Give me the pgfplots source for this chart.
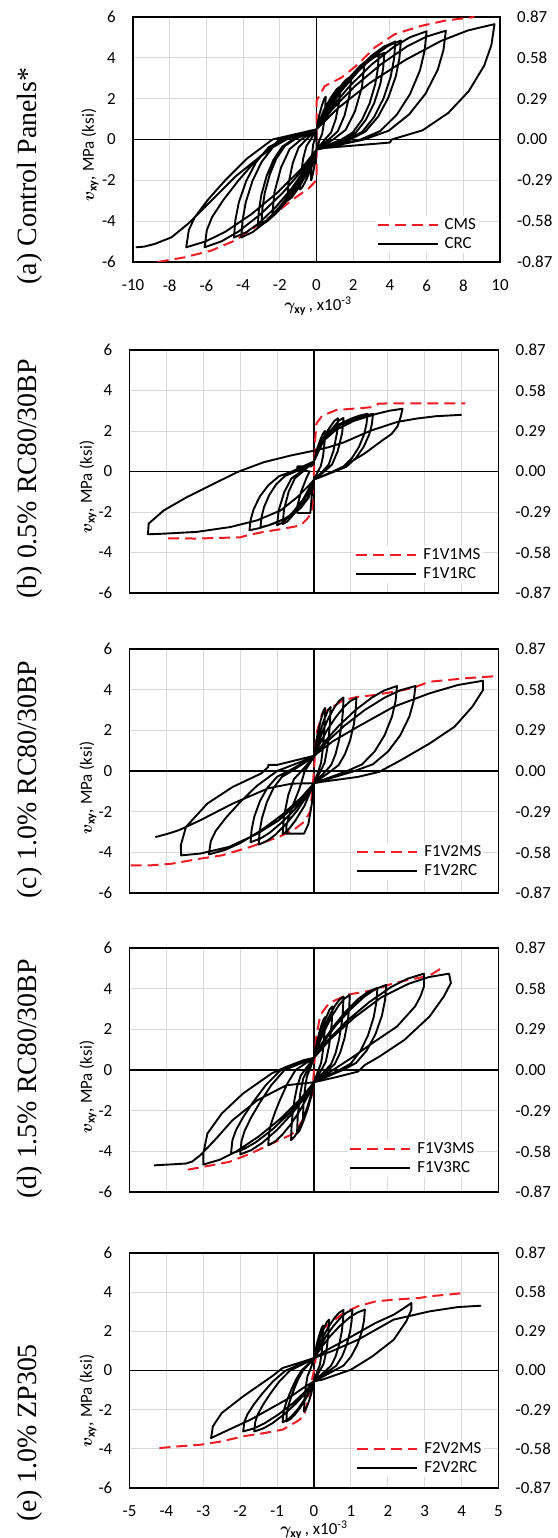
\RequirePackage{fix-cm}
\documentclass[border=0pt]{standalone}
\usepackage{amsmath}
\usepackage{bm}
\usepackage{fontspec}
\setmainfont{Carlito}
\newfontfamily\tnr{Liberation Serif}
\usepackage{pgfplots}
\pgfplotsset{compat=1.18}
\definecolor{msred}{RGB}{237,28,36}
\definecolor{gridgray}{RGB}{217,217,217}
\newcommand{\tfont}{\fontsize{17}{20}\selectfont}
\newcommand{\sfont}{\tnr\fontsize{28}{32}\selectfont}

\pgfplotsset{
  panel/.style={
    scale only axis,
    ymin=-6, ymax=6,
    ytick={-6,-4,-2,0,2,4,6},
    yticklabels={-6,-4,-2,0,2,4,6},
    grid=major,
    major grid style={draw=gridgray, line width=1bp},
    axis line style={line width=1.4bp},
    tick style={draw=none},
    ticklabel style={font=\tfont},
    yticklabel style={inner sep=0pt, anchor=east, xshift=-17bp},
    xticklabel style={inner sep=0pt, anchor=north, yshift=-17.5bp},
    extra x ticks={0}, extra y ticks={0},
    extra x tick labels={}, extra y tick labels={},
    extra tick style={grid=major, major grid style={draw=black, line width=1.4bp}},
    legend cell align=left,
    legend style={draw=none, fill=white, font=\tfont, inner sep=1bp, row sep=2bp, nodes={inner sep=2bp},
      /tikz/every odd column/.append style={column sep=4bp}},
    legend image code/.code={\draw[##1] (0bp,0bp) -- (60bp,0bp);},
  },
  rightax/.style={
    scale only axis,
    ymin=-6, ymax=6, xmin=0, xmax=1,
    axis x line=none,
    axis y line*=right,
    axis line style={draw=none},
    ytick={-6,-4,-2,0,2,4,6},
    yticklabels={-0.87,-0.58,-0.29,0.00,0.29,0.58,0.87},
    tick style={draw=none},
    yticklabel style={font=\tfont, inner sep=0pt, anchor=west, xshift=17bp},
  },
  ms/.style={msred, line width=2bp, dash pattern=on 11bp off 6bp},
  rc/.style={black, line width=1.9bp, line join=round},
}

\begin{document}
\begin{tikzpicture}
\path[use as bounding box] (0,0) rectangle (558bp,-1538bp);

% ---------------- (a) ----------------
\begin{axis}[panel, at={(133bp,-17bp)}, anchor=north west, width=367bp, height=245bp,
  xmin=-10, xmax=10, xtick={-10,-8,-6,-4,-2,0,2,4,6,8,10},
  xticklabels={-10,-8,-6,-4,-2,0,2,4,6,8,10},
  legend style={at={(1,0)}, anchor=south east, xshift=-21bp, yshift=9bp}]
\addplot[ms] coordinates {(-8.65,-6.0) (-7.18,-5.77) (-5.73,-5.44) (-4.45,-4.95) (-3.36,-4.3) (-2.27,-3.64) (-1.36,-2.98) (-0.45,-2.41) (-0.09,-2.08) (0,-1.84) (0,1.89) (0.45,2.62) (1.36,3.03) (2.27,3.69) (3.18,4.51) (4.27,5.16) (5.73,5.57) (7.0,5.82) (8.6,6.0)};
\addlegendentry{CMS}
\addplot[rc] coordinates {
(0,0.5) (0.15,1.2) (0.3,1.68) (0.425,2.0) (0.5,2.1)
(0.477,1.51) (0.403,0.8) (0.305,0.27) (0.175,0) (0,-0.5)
(-0.09,-1.16) (-0.18,-1.61) (-0.255,-1.91) (-0.3,-2.0)
(-0.286,-1.44) (-0.242,-0.76) (-0.183,-0.26) (-0.105,0) (0,0.5)
(0.39,1.42) (0.78,2.05) (1.105,2.47) (1.3,2.6)
(1.241,1.87) (1.047,0.99) (0.793,0.34) (0.455,0) (0,-0.5)
(-0.27,-1.36) (-0.54,-1.94) (-0.765,-2.33) (-0.9,-2.45)
(-0.859,-1.76) (-0.725,-0.93) (-0.549,-0.32) (-0.315,0) (0,0.5)
(0.57,1.64) (1.14,2.42) (1.615,2.94) (1.9,3.1)
(1.814,2.23) (1.53,1.18) (1.159,0.4) (0.665,0) (0,-0.5)
(-0.48,-1.6) (-0.96,-2.35) (-1.36,-2.85) (-1.6,-3.0)
(-1.527,-2.16) (-1.288,-1.14) (-0.976,-0.39) (-0.56,0) (0,0.5)
(0.78,1.86) (1.56,2.79) (2.21,3.41) (2.6,3.6)
(2.482,2.59) (2.093,1.37) (1.586,0.47) (0.91,0) (0,-0.5)
(-0.72,-1.86) (-1.44,-2.79) (-2.04,-3.41) (-2.4,-3.6)
(-2.291,-2.59) (-1.932,-1.37) (-1.464,-0.47) (-0.84,0) (0,0.5)
(0.408,1.24) (1.02,2.13) (1.7,2.94) (2.38,3.61) (2.89,3.98) (3.4,4.2)
(3.339,3.44) (3.196,2.69) (2.89,1.76) (2.482,0.97) (1.972,0.34) (1.36,0) (0,-0.5)
(-0.384,-1.25) (-0.96,-2.15) (-1.6,-2.98) (-2.24,-3.65) (-2.72,-4.03) (-3.2,-4.25)
(-3.142,-3.49) (-3.008,-2.72) (-2.72,-1.79) (-2.336,-0.98) (-1.856,-0.34) (-1.28,0) (0,0.5)
(0.444,1.25) (1.11,2.15) (1.85,2.98) (2.59,3.65) (3.145,4.03) (3.7,4.25)
(3.633,3.49) (3.478,2.72) (3.145,1.79) (2.701,0.98) (2.146,0.34) (1.48,0) (0,-0.5)
(-0.36,-1.22) (-0.9,-2.08) (-1.5,-2.88) (-2.1,-3.52) (-2.55,-3.88) (-3.0,-4.1)
(-2.946,-3.36) (-2.82,-2.62) (-2.55,-1.72) (-2.19,-0.94) (-1.74,-0.33) (-1.2,0) (0,0.5)
(0.516,1.36) (1.29,2.39) (2.15,3.34) (3.01,4.11) (3.655,4.54) (4.3,4.8)
(4.223,3.94) (4.042,3.07) (3.655,2.02) (3.139,1.1) (2.494,0.38) (1.72,0) (0,-0.5)
(-0.492,-1.36) (-1.23,-2.39) (-2.05,-3.34) (-2.87,-4.11) (-3.485,-4.54) (-4.1,-4.8)
(-4.026,-3.94) (-3.854,-3.07) (-3.485,-2.02) (-2.993,-1.1) (-2.378,-0.38) (-1.64,0) (0,0.5)
(0.552,1.37) (1.38,2.41) (2.3,3.37) (3.22,4.15) (3.91,4.59) (4.6,4.85)
(4.517,3.98) (4.324,3.1) (3.91,2.04) (3.358,1.12) (2.668,0.39) (1.84,0) (0,-0.5)
(-0.54,-1.36) (-1.35,-2.39) (-2.25,-3.34) (-3.15,-4.11) (-3.825,-4.54) (-4.5,-4.8)
(-4.419,-3.94) (-4.23,-3.07) (-3.825,-2.02) (-3.285,-1.1) (-2.61,-0.38) (-1.8,0) (0,0.5)
(0.72,1.46) (1.8,2.61) (3.0,3.67) (4.2,4.53) (5.1,5.01) (6.0,5.3)
(5.892,4.35) (5.64,3.39) (5.1,2.23) (4.38,1.22) (3.48,0.42) (2.4,0) (0,-0.5)
(-0.732,-1.46) (-1.83,-2.6) (-3.05,-3.66) (-4.27,-4.52) (-5.185,-4.99) (-6.1,-5.28)
(-5.977,-4.44) (-5.69,-3.8) (-5.075,-2.96) (-4.255,-2.01) (-3.23,-0.95) (-2.0,0) (0,0.5)
(0.846,1.47) (2.115,2.63) (3.525,3.69) (4.935,4.56) (5.993,5.04) (7.05,5.33)
(6.917,4.37) (6.605,3.41) (5.938,2.24) (5.048,1.23) (3.935,0.43) (2.6,0) (0,-0.5)
(-0.852,-1.46) (-2.13,-2.6) (-3.55,-3.66) (-4.97,-4.52) (-6.035,-4.99) (-7.1,-5.28)
(-6.959,-4.44) (-6.63,-3.8) (-5.925,-2.96) (-4.985,-2.01) (-3.81,-0.95) (-2.4,0) (0,0.5)
(1.164,1.53) (2.91,2.77) (4.85,3.9) (6.79,4.83) (8.245,5.34) (9.7,5.65)
(9.532,4.63) (9.14,3.62) (8.3,2.37) (7.18,1.3) (5.78,0.45) (4.1,0) (4.0,-0.15) (0,-0.45)
(0,0.4) (-1.0,0.25) (-1.8,0.0) (-2.64,-0.55) (-3.55,-1.18) (-4.45,-1.84) (-5.36,-2.66) (-6.27,-3.48) (-7.0,-4.13) (-7.9,-4.79) (-8.8,-5.11) (-9.4,-5.25) (-9.85,-5.28)
};
\addlegendentry{CRC}
\end{axis}
\begin{axis}[rightax, at={(133bp,-17bp)}, anchor=north west, width=367bp, height=245bp]
\end{axis}

% ---------------- (b) ----------------
\begin{axis}[panel, at={(129.5bp,-350bp)}, anchor=north west, width=369bp, height=243bp,
  xmin=-5, xmax=5, xtick={-5,-4,-3,-2,-1,0,1,2,3,4,5}, xticklabels={},
  legend style={at={(1,0)}, anchor=south east, xshift=-15bp, yshift=10bp}]
\addplot[ms] coordinates {(-3.95,-3.3) (-3.17,-3.31) (-2.0,-3.25) (-1.8,-3.15) (-1.36,-2.98) (-0.81,-2.82) (-0.36,-2.66) (-0.18,-2.33) (-0.05,-2.0) (0,0) (0.03,1.56) (0.07,2.38) (0.22,2.75) (0.61,3.04) (1.2,3.12) (1.58,3.18) (1.75,3.35) (2.2,3.37) (4.1,3.37)};
\addlegendentry{F1V1MS}
\addplot[rc] coordinates {
(0,0.5) (0.09,1.16) (0.18,1.61) (0.255,1.91) (0.3,2.0)
(0.286,1.44) (0.246,0.76) (0.183,0.26) (0.105,0) (0,-0.4)
(-0.06,-1.2) (-0.1,-2.05) (-0.45,-2.05) (-0.45,-1.7) (-0.35,-1.0) (-0.2,-0.3) (-0.12,0) (-0.45,0.1) (-0.45,0.25) (-0.07,0.25) (0,0.5)
(0.195,1.44) (0.39,2.08) (0.553,2.5) (0.65,2.63)
(0.621,1.89) (0.524,1.0) (0.398,0.34) (0.23,0) (0,-0.4)
(-0.255,-1.37) (-0.51,-2.03) (-0.723,-2.47) (-0.85,-2.6)
(-0.812,-1.87) (-0.685,-0.99) (-0.52,-0.34) (-0.3,0) (0,0.5)
(0.24,1.45) (0.48,2.09) (0.68,2.52) (0.8,2.65)
(0.764,1.91) (0.644,1.01) (0.488,0.34) (0.28,0) (0,-0.4)
(-0.3,-1.39) (-0.6,-2.07) (-0.85,-2.52) (-1.0,-2.65)
(-0.955,-1.91) (-0.805,-1.01) (-0.61,-0.34) (-0.35,0) (0,0.5)
(0.145,1.39) (0.363,1.91) (0.653,2.31) (1.015,2.62) (1.233,2.76) (1.45,2.85)
(1.422,2.34) (1.356,1.82) (1.215,1.2) (1.027,0.66) (0.792,0.23) (0.51,0) (0,-0.4)
(-0.145,-1.29) (-0.363,-1.81) (-0.653,-2.21) (-1.015,-2.52) (-1.233,-2.66) (-1.45,-2.75)
(-1.422,-2.26) (-1.355,-1.76) (-1.213,-1.16) (-1.023,-0.63) (-0.785,-0.22) (-0.5,0) (0,0.5)
(0.16,1.39) (0.4,1.91) (0.72,2.31) (1.12,2.62) (1.36,2.76) (1.6,2.85)
(1.569,2.34) (1.496,1.82) (1.34,1.2) (1.132,0.66) (0.872,0.23) (0.56,0) (0,-0.4)
(-0.175,-1.35) (-0.438,-1.9) (-0.788,-2.33) (-1.225,-2.65) (-1.488,-2.8) (-1.75,-2.9)
(-1.716,-2.38) (-1.635,-1.86) (-1.463,-1.22) (-1.233,-0.67) (-0.945,-0.23) (-0.6,0) (0,0.5)
(0.24,1.49) (0.6,2.06) (1.08,2.5) (1.68,2.84) (2.04,3.0) (2.4,3.1)
(2.35,2.7) (2.26,2.22) (2.1,1.85) (1.87,1.56) (1.38,0.9) (0.8,0.25) (0.45,-0.05) (0,-0.4)
(-0.09,-0.6) (-0.45,-1.26) (-0.9,-1.92) (-1.54,-2.41) (-2.26,-2.74) (-3.17,-2.98) (-4.07,-3.07) (-4.5,-3.1)
(-4.48,-2.57) (-4.07,-1.92) (-3.44,-1.26) (-2.71,-0.6) (-2.08,-0.03) (-1.36,0.46) (-0.63,0.79) (0,1.03)
(0.4,1.2) (0.81,1.44) (1.54,2.02) (2.26,2.45) (2.8,2.62) (3.3,2.73) (4.0,2.8)
};
\addlegendentry{F1V1RC}
\end{axis}
\begin{axis}[rightax, at={(129.5bp,-350bp)}, anchor=north west, width=369bp, height=243bp]
\end{axis}

% ---------------- (c) ----------------
\begin{axis}[panel, at={(129.5bp,-649bp)}, anchor=north west, width=369bp, height=244bp,
  xmin=-5, xmax=5, xtick={-5,-4,-3,-2,-1,0,1,2,3,4,5}, xticklabels={},
  legend style={at={(1,0)}, anchor=south east, xshift=-14bp, yshift=13bp}]
\addplot[ms] coordinates {(-4.97,-4.64) (-4.44,-4.64) (-3.86,-4.56) (-3.08,-4.31) (-2.5,-4.15) (-1.72,-3.73) (-0.95,-3.24) (-0.56,-2.91) (-0.27,-2.5) (-0.1,-2.0) (0,0) (0.03,1.0) (0.07,1.85) (0.22,2.83) (0.51,3.16) (0.8,3.49) (1.19,3.65) (1.67,3.74) (2.16,3.9) (2.64,4.06) (3.13,4.39) (4.1,4.56) (4.97,4.67)};
\addlegendentry{F1V2MS}
\addplot[rc] coordinates {
(0,0.7) (0.09,1.76) (0.18,2.48) (0.255,2.96) (0.3,3.1)
(0.287,2.23) (0.246,1.18) (0.192,0.4) (0.12,0) (0,-0.6)
(-0.05,-1.5) (-0.15,-2.6) (-0.27,-3.08) (-0.75,-3.08) (-0.75,-2.7) (-0.6,-1.8) (-0.4,-0.9) (-0.25,0) (0,0.7)
(0.135,1.78) (0.27,2.51) (0.383,3.0) (0.45,3.15)
(0.431,2.27) (0.369,1.2) (0.288,0.41) (0.18,0) (0,-0.6)
(-0.255,-1.7) (-0.51,-2.45) (-0.723,-2.95) (-0.85,-3.1)
(-0.814,-2.23) (-0.697,-1.18) (-0.544,-0.4) (-0.34,0) (0,0.7)
(0.096,1.28) (0.24,1.99) (0.4,2.63) (0.56,3.15) (0.68,3.45) (0.8,3.62)
(0.786,2.97) (0.752,2.32) (0.68,1.52) (0.584,0.83) (0.464,0.29) (0.32,0) (0,-0.6)
(-0.18,-1.2) (-0.45,-1.93) (-0.75,-2.59) (-1.05,-3.14) (-1.275,-3.44) (-1.5,-3.62)
(-1.473,-2.97) (-1.41,-2.32) (-1.275,-1.52) (-1.095,-0.83) (-0.87,-0.29) (-0.6,0) (0,0.7)
(0.138,1.28) (0.345,1.98) (0.575,2.61) (0.805,3.14) (0.978,3.43) (1.15,3.6)
(1.129,2.95) (1.081,2.3) (0.978,1.51) (0.84,0.83) (0.667,0.29) (0.46,0) (0,-0.6)
(-0.206,-1.18) (-0.516,-1.88) (-0.86,-2.51) (-1.204,-3.04) (-1.462,-3.33) (-1.72,-3.5)
(-1.689,-2.87) (-1.617,-2.24) (-1.463,-1.47) (-1.257,-0.81) (-0.999,-0.28) (-0.69,0) (0,0.7)
(0.27,1.4) (0.675,2.23) (1.125,3.0) (1.575,3.62) (1.913,3.97) (2.25,4.18)
(2.21,3.43) (2.115,2.68) (1.913,1.76) (1.643,0.96) (1.305,0.33) (0.9,0) (0,-0.6)
(-0.342,-1.3) (-0.855,-2.14) (-1.425,-2.91) (-1.995,-3.54) (-2.423,-3.89) (-2.85,-4.1)
(-2.795,-3.44) (-2.665,-2.95) (-2.388,-2.3) (-2.018,-1.56) (-1.555,-0.74) (-1.0,0) (0,0.7)
(0.33,1.4) (0.825,2.23) (1.375,3.0) (1.925,3.62) (2.338,3.97) (2.75,4.18)
(2.7,3.43) (2.585,2.68) (2.338,1.76) (2.008,0.96) (1.595,0.33) (1.1,0) (0,-0.6)
(-0.3,-1.3) (-0.6,-1.85) (-0.95,-2.42) (-1.53,-3.08) (-2.3,-3.73) (-3.08,-4.06) (-3.6,-4.15)
(-3.61,-3.65) (-3.47,-2.75) (-2.89,-1.6) (-2.2,-0.78) (-1.43,-0.12) (-1.24,0.2) (-1.24,0.3) (-1.0,0.3) (0,0.75)
(0.5,1.45) (1.19,2.18) (2.16,3.16) (3.13,3.82) (3.9,4.23) (4.58,4.44)
(4.58,3.98) (4.29,3.16) (3.81,2.18) (3.13,1.35) (2.35,0.53) (1.77,-0.04) (1.19,-0.29) (0.22,-0.53) (0,-0.6)
(-0.6,-0.62) (-1.24,-0.85) (-2.2,-1.6) (-3.08,-2.42) (-3.66,-2.91) (-3.95,-3.08) (-4.3,-3.25)
};
\addlegendentry{F1V2RC}
\end{axis}
\begin{axis}[rightax, at={(129.5bp,-649bp)}, anchor=north west, width=369bp, height=244bp]
\end{axis}

% ---------------- (d) ----------------
\begin{axis}[panel, at={(129.5bp,-948bp)}, anchor=north west, width=369bp, height=244bp,
  xmin=-5, xmax=5, xtick={-5,-4,-3,-2,-1,0,1,2,3,4,5}, xticklabels={},
  legend style={at={(1,0)}, anchor=south east, xshift=-21bp, yshift=15bp}]
\addplot[ms] coordinates {(-3.42,-4.9) (-2.79,-4.69) (-2.3,-4.52) (-1.72,-4.11) (-1.33,-3.78) (-0.95,-3.45) (-0.65,-3.21) (-0.46,-2.96) (-0.22,-2.14) (-0.05,-1.2) (0,0) (0.05,1.5) (0.17,2.71) (0.41,3.29) (0.9,3.7) (1.67,3.95) (2.16,4.28) (3.13,4.64) (3.42,4.97)};
\addlegendentry{F1V3MS}
\addplot[rc] coordinates {
(0,0.6) (0.09,1.48) (0.18,2.08) (0.255,2.48) (0.3,2.6)
(0.287,1.87) (0.246,0.99) (0.192,0.34) (0.12,0) (0,-0.6)
(-0.09,-1.41) (-0.18,-1.97) (-0.255,-2.34) (-0.3,-2.45)
(-0.287,-1.76) (-0.246,-0.93) (-0.192,-0.32) (-0.12,0) (0,0.6)
(0.15,1.71) (0.3,2.47) (0.425,2.98) (0.5,3.13)
(0.479,2.25) (0.41,1.19) (0.32,0.41) (0.2,0) (0,-0.6)
(-0.138,-1.71) (-0.276,-2.47) (-0.391,-2.98) (-0.46,-3.13)
(-0.44,-2.25) (-0.376,-1.19) (-0.292,-0.41) (-0.18,0) (0,0.6)
(0.096,1.2) (0.24,1.93) (0.4,2.59) (0.56,3.14) (0.68,3.44) (0.8,3.62)
(0.786,2.97) (0.752,2.32) (0.68,1.52) (0.584,0.83) (0.464,0.29) (0.32,0) (0,-0.6)
(-0.074,-1.17) (-0.186,-1.85) (-0.31,-2.48) (-0.434,-2.99) (-0.527,-3.28) (-0.62,-3.45)
(-0.609,-2.83) (-0.583,-2.21) (-0.528,-1.45) (-0.454,-0.79) (-0.361,-0.28) (-0.25,0) (0,0.6)
(0.116,1.22) (0.291,1.96) (0.485,2.65) (0.679,3.2) (0.825,3.51) (0.97,3.7)
(0.953,3.03) (0.912,2.37) (0.825,1.55) (0.709,0.85) (0.564,0.3) (0.39,0) (0,-0.6)
(-0.149,-1.22) (-0.372,-1.96) (-0.62,-2.65) (-0.868,-3.2) (-1.054,-3.51) (-1.24,-3.7)
(-1.218,-3.11) (-1.166,-2.66) (-1.055,-2.07) (-0.907,-1.41) (-0.722,-0.67) (-0.5,0) (0,0.6)
(0.206,1.29) (0.516,2.12) (0.86,2.88) (1.204,3.5) (1.462,3.84) (1.72,4.05)
(1.689,3.32) (1.617,2.59) (1.463,1.7) (1.257,0.93) (0.999,0.32) (0.69,0) (0,-0.6)
(-0.24,-1.31) (-0.6,-2.16) (-1.0,-2.94) (-1.4,-3.58) (-1.7,-3.94) (-2.0,-4.15)
(-1.964,-3.49) (-1.88,-2.99) (-1.7,-2.32) (-1.46,-1.58) (-1.16,-0.75) (-0.8,0) (0,0.6)
(0.235,1.32) (0.588,2.18) (0.98,2.97) (1.372,3.62) (1.666,3.98) (1.96,4.19)
(1.925,3.44) (1.842,2.68) (1.665,1.76) (1.429,0.96) (1.134,0.34) (0.78,0) (0,-0.6)
(-0.27,-1.3) (-0.675,-2.14) (-1.125,-2.92) (-1.575,-3.55) (-1.913,-3.9) (-2.25,-4.11)
(-2.21,-3.45) (-2.115,-2.96) (-1.913,-2.3) (-1.643,-1.56) (-1.305,-0.74) (-0.9,0) (0,0.6)
(0.358,1.43) (0.894,2.42) (1.49,3.33) (2.086,4.08) (2.533,4.49) (2.98,4.74)
(2.98,4.11) (2.88,3.6) (2.74,3.13) (2.25,2.14) (1.58,1.32) (1.1,0.7) (0.6,0.1) (0,-0.6)
(-0.36,-1.41) (-0.9,-2.38) (-1.5,-3.27) (-2.1,-4.0) (-2.55,-4.41) (-3.0,-4.65)
(-3.0,-4.11) (-2.89,-3.13) (-2.5,-2.14) (-1.92,-1.15) (-1.14,-0.16) (-0.75,0.16) (-0.27,0.49) (0,0.6)
(0.439,1.51) (1.098,2.59) (1.83,3.58) (2.562,4.24) (3.111,4.57) (3.66,4.74)
(3.71,4.28) (3.52,3.62) (3.13,2.63) (2.45,1.48) (1.77,0.66) (1.38,0.25) (1.19,-0.08) (0.6,-0.35) (0,-0.6)
(-0.75,-0.75) (-1.53,-1.48) (-2.21,-2.47) (-2.69,-3.45) (-3.08,-4.19) (-3.3,-4.5) (-3.47,-4.6) (-4.34,-4.69)
};
\addlegendentry{F1V3RC}
\end{axis}
\begin{axis}[rightax, at={(129.5bp,-948bp)}, anchor=north west, width=369bp, height=244bp]
\end{axis}

% ---------------- (e) ----------------
\begin{axis}[panel, at={(129.5bp,-1253bp)}, anchor=north west, width=369bp, height=235bp,
  xmin=-5, xmax=5, xtick={-5,-4,-3,-2,-1,0,1,2,3,4,5}, xticklabels={-5,-4,-3,-2,-1,0,1,2,3,4,5},
  legend style={at={(1,0)}, anchor=south east, xshift=-14bp, yshift=11bp}]
\addplot[ms] coordinates {(-4.19,-3.96) (-3.66,-3.87) (-3.08,-3.79) (-2.5,-3.62) (-1.92,-3.36) (-1.33,-3.19) (-0.85,-3.02) (-0.46,-2.6) (-0.27,-2.34) (-0.17,-1.49) (0,0) (0.12,1.57) (0.27,2.17) (0.51,2.51) (0.8,2.94) (1.19,3.28) (1.67,3.53) (2.16,3.62) (2.84,3.7) (3.13,3.79) (4.1,3.96)};
\addlegendentry{F2V2MS}
\addplot[rc] coordinates {
(0,0.6) (0.075,1.35) (0.15,1.86) (0.213,2.2) (0.25,2.3)
(0.24,1.66) (0.205,0.87) (0.16,0.3) (0.1,0) (0,-0.55)
(-0.081,-1.23) (-0.162,-1.7) (-0.23,-2.01) (-0.27,-2.1)
(-0.259,-1.51) (-0.222,-0.8) (-0.174,-0.27) (-0.11,0) (0,0.6)
(0.123,1.48) (0.246,2.08) (0.349,2.48) (0.41,2.6)
(0.393,1.87) (0.335,0.99) (0.26,0.34) (0.16,0) (0,-0.55)
(-0.09,-0.96) (-0.225,-1.45) (-0.375,-1.9) (-0.525,-2.27) (-0.638,-2.48) (-0.75,-2.6)
(-0.737,-2.18) (-0.705,-1.87) (-0.638,-1.46) (-0.548,-0.99) (-0.435,-0.47) (-0.3,0) (0,0.6)
(0.096,1.1) (0.24,1.7) (0.4,2.25) (0.56,2.7) (0.68,2.95) (0.8,3.1)
(0.786,2.54) (0.752,1.98) (0.68,1.3) (0.584,0.71) (0.464,0.25) (0.32,0) (0,-0.55)
(-0.102,-0.97) (-0.255,-1.47) (-0.425,-1.94) (-0.595,-2.31) (-0.723,-2.52) (-0.85,-2.65)
(-0.835,-2.23) (-0.799,-1.91) (-0.723,-1.48) (-0.621,-1.01) (-0.493,-0.48) (-0.34,0) (0,0.6)
(0.125,1.1) (0.312,1.7) (0.52,2.26) (0.728,2.71) (0.884,2.96) (1.04,3.11)
(1.021,2.55) (0.978,1.99) (0.885,1.31) (0.761,0.72) (0.606,0.25) (0.42,0) (0,-0.55)
(-0.194,-1.06) (-0.486,-1.68) (-0.81,-2.24) (-1.134,-2.7) (-1.377,-2.96) (-1.62,-3.11)
(-1.591,-2.61) (-1.523,-2.24) (-1.378,-1.74) (-1.184,-1.18) (-0.941,-0.56) (-0.65,0) (0,0.6)
(0.166,1.1) (0.414,1.7) (0.69,2.26) (0.966,2.71) (1.173,2.96) (1.38,3.11)
(1.355,2.55) (1.297,1.99) (1.173,1.31) (1.007,0.72) (0.799,0.25) (0.55,0) (0,-0.55)
(-0.23,-1.06) (-0.576,-1.68) (-0.96,-2.24) (-1.344,-2.7) (-1.632,-2.96) (-1.92,-3.11)
(-1.886,-2.61) (-1.805,-2.24) (-1.633,-1.74) (-1.403,-1.18) (-1.115,-0.56) (-0.77,0) (0,0.6)
(0.3,1.0) (0.7,1.4) (1.67,2.43) (2.16,2.85) (2.45,3.2) (2.64,3.45)
(2.64,3.11) (2.5,2.51) (2.16,1.57) (1.58,0.72) (1.0,0.04) (0.22,-0.47) (0,-0.55)
(-0.3,-0.9) (-0.75,-1.49) (-1.72,-2.51) (-2.5,-3.19) (-2.79,-3.45)
(-2.74,-2.85) (-2.5,-2.17) (-1.92,-1.32) (-1.14,-0.3) (-0.85,0.13) (-0.27,0.47) (0,0.64)
(0.5,1.0) (1.19,1.57) (2.16,2.6) (3.13,3.02) (3.9,3.24) (4.53,3.31)
};
\addlegendentry{F2V2RC}
\end{axis}
\begin{axis}[rightax, at={(129.5bp,-1253bp)}, anchor=north west, width=369bp, height=235bp]
\end{axis}

% ---------------- labels ----------------
\node[rotate=90, anchor=center, font=\tfont] at (90bp,-155bp) {$\bm{v}_{\mathbf{xy}}$, MPa (ksi)};
\node[rotate=90, anchor=center, font=\tfont] at (88bp,-487bp) {$\bm{v}_{\mathbf{xy}}$, MPa (ksi)};
\node[rotate=90, anchor=center, font=\tfont] at (88bp,-788bp) {$\bm{v}_{\mathbf{xy}}$, MPa (ksi)};
\node[rotate=90, anchor=center, font=\tfont] at (88bp,-1087bp) {$\bm{v}_{\mathbf{xy}}$, MPa (ksi)};
\node[rotate=90, anchor=center, font=\tfont] at (88bp,-1401bp) {$\bm{v}_{\mathbf{xy}}$, MPa (ksi)};
\node[anchor=center, font=\tfont] at (318bp,-306bp) {$\bm{\gamma}_{\mathbf{xy}}$\,, x10\textsuperscript{-3}};
\node[anchor=center, font=\tfont] at (314bp,-1530bp) {$\bm{\gamma}_{\mathbf{xy}}$\,, x10\textsuperscript{-3}};
\node[rotate=90, anchor=west, font=\sfont] at (30bp,-288bp) {(a) Control Panels*};
\node[rotate=90, anchor=west, font=\sfont] at (30bp,-602bp) {(b) 0.5\% RC80/30BP};
\node[rotate=90, anchor=west, font=\sfont] at (30bp,-902bp) {(c) 1.0\% RC80/30BP};
\node[rotate=90, anchor=west, font=\sfont] at (30bp,-1202bp) {(d) 1.5\% RC80/30BP};
\node[rotate=90, anchor=west, font=\sfont] at (30bp,-1525bp) {(e) 1.0\% ZP305};
\end{tikzpicture}
\end{document}
